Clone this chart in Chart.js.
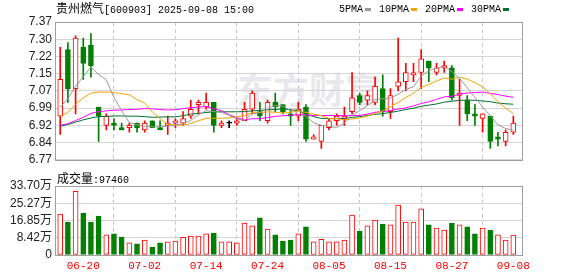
<!DOCTYPE html>
<html><head><meta charset="utf-8">
<script src="https://cdn.jsdelivr.net/npm/chart.js@4.4.1/dist/chart.umd.min.js"></script>
<style>
html,body{margin:0;padding:0;background:#fff;}
#wrap{position:relative;width:578px;height:276px;overflow:hidden;background:#fff;}
canvas{position:absolute;left:0;}
#c1{top:0;width:578px;height:170px;}
#c2{top:170px;width:578px;height:106px;}
.t{position:absolute;white-space:nowrap;color:#000;line-height:14px;}
.cjk{font-family:"Noto Sans CJK SC",sans-serif;font-size:12px;}
.lat{font-family:"Liberation Mono",monospace;font-size:10px;}
#legend{position:absolute;left:339px;top:2px;height:14px;display:flex;align-items:center;white-space:nowrap;}
#legend .mk{display:inline-block;width:6px;height:3px;margin-left:2px;margin-right:8px;}
</style></head><body>
<div id="wrap">
<canvas id="c1" width="578" height="170"></canvas>
<canvas id="c2" width="578" height="106"></canvas>
<div class="t" id="title" style="left:56px;top:1px;"></div>
<div id="legend"></div>
<div class="t" id="vollabel" style="left:57px;top:171px;"></div>
</div>
<script>
// ---------- data ----------
const stockName = '贵州燃气';
const stockCode = '600903';
const stamp = '2025-09-08 15:00';
const dates = ['06-17','06-18','06-19','06-20','06-23','06-24','06-25','06-26','06-27','06-30',
 '07-01','07-02','07-03','07-04','07-07','07-08','07-09','07-10','07-11',
 '07-14','07-15','07-16','07-17','07-18','07-21','07-22','07-23','07-24','07-25',
 '07-28','07-29','07-30','07-31','08-01','08-04','08-05','08-06','08-07','08-08',
 '08-11','08-12','08-13','08-14','08-15','08-18','08-19','08-20','08-21','08-22',
 '08-25','08-26','08-27','08-28','08-29','09-01','09-02','09-03','09-04','09-05','09-08'];
const xLabels = ['06-20','07-02','07-14','07-24','08-05','08-15','08-27','09-08'];
const opens  = [6.96,7.25,7.08,7.26,7.27,7.00,6.92,6.93,6.91,6.91, 6.93,6.90,6.94,6.91,6.92,6.93,6.93,6.96,7.01,7.00,
                7.02,6.92,6.93,6.93,6.94,6.99,6.98,6.94,7.02,7.01, 6.97,6.96,7.00,6.86,6.85,6.91,6.94,6.95,6.98,7.05,
                7.03,7.02,7.08,6.98,7.09,7.11,7.14,7.15,7.20,7.15, 7.17,7.17,7.05,7.03,6.97,6.95,6.96,6.87,6.85,6.89];
const closes = [7.12,7.08,7.30,7.19,7.18,6.96,6.96,6.92,6.90,6.92, 6.91,6.93,6.91,6.90,6.93,6.94,6.95,6.99,7.02,7.02,
                6.92,6.93,6.93,6.94,6.99,7.06,6.96,7.02,7.00,6.98, 6.96,6.99,6.86,6.87,6.92,6.94,6.96,6.96,7.04,7.02,
                7.05,7.09,6.98,7.05,7.11,7.15,7.15,7.21,7.17,7.17, 7.18,7.04,7.06,6.97,6.96,6.97,6.85,6.86,6.89,6.93];
const highs  = [7.26,7.28,7.31,7.30,7.32,7.00,6.97,6.95,6.93,6.93, 6.93,6.94,6.94,6.94,6.96,6.95,6.98,7.03,7.03,7.06,
                7.02,6.94,6.94,6.95,7.02,7.07,7.02,7.03,7.06,7.01, 6.99,7.02,7.01,6.88,6.92,6.95,6.97,7.00,7.15,7.06,
                7.07,7.13,7.14,7.08,7.30,7.19,7.19,7.25,7.20,7.19, 7.20,7.18,7.12,7.05,7.01,6.97,6.96,6.89,6.90,6.96];
const lows   = [6.88,7.02,6.97,7.12,7.13,6.85,6.90,6.90,6.90,6.89, 6.89,6.89,6.91,6.90,6.88,6.91,6.92,6.95,6.97,6.99,
                6.89,6.91,6.91,6.92,6.94,6.97,6.94,6.93,6.98,6.97, 6.92,6.94,6.85,6.86,6.82,6.90,6.92,6.92,6.97,7.01,
                7.01,7.01,6.96,6.95,7.07,7.07,7.11,7.08,7.11,7.14, 7.15,7.03,6.92,6.94,6.92,6.89,6.82,6.83,6.83,6.88];
const ma5  = [7.000,7.036,7.090,7.131,7.174,7.142,7.118,7.042,6.984,6.932, 6.922,6.916,6.914,6.914,6.916,6.922,6.926,6.942,6.966,6.984,
              6.980,6.976,6.964,6.948,6.942,6.970,6.976,6.994,7.006,7.004, 6.984,6.990,6.958,6.932,6.920,6.916,6.910,6.930,6.964,6.984,
              7.006,7.032,7.036,7.038,7.056,7.076,7.088,7.134,7.158,7.170, 7.176,7.154,7.124,7.084,7.042,7.000,6.962,6.922,6.906,6.900];
const ma10 = [6.960,6.976,7.012,7.040,7.060,7.065,7.065,7.063,7.058,7.053, 7.032,7.017,6.978,6.949,6.924,6.922,6.921,6.928,6.940,6.950,
              6.951,6.951,6.953,6.957,6.963,6.975,6.976,6.979,6.977,6.973, 6.977,6.983,6.976,6.969,6.962,6.950,6.950,6.944,6.948,6.952,
              6.961,6.971,6.983,7.001,7.020,7.041,7.060,7.085,7.098,7.113, 7.126,7.121,7.129,7.121,7.106,7.088,7.058,7.023,6.995,6.971];
const ma20 = [6.920,6.927,6.941,6.955,6.972,6.980,6.983,6.986,6.987,6.989, 6.990,6.993,6.992,6.989,6.987,6.988,6.993,6.997,7.000,7.002,
              6.992,6.984,6.966,6.953,6.944,6.949,6.949,6.954,6.959,6.962, 6.964,6.967,6.965,6.963,6.963,6.963,6.963,6.962,6.963,6.963,
              6.969,6.977,6.980,6.985,6.991,6.996,7.005,7.015,7.023,7.033, 7.044,7.046,7.056,7.061,7.063,7.065,7.059,7.054,7.047,7.042];
const ma30 = [6.916,6.924,6.934,6.944,6.952,6.958,6.959,6.961,6.961,6.960, 6.960,6.958,6.955,6.956,6.957,6.957,6.962,6.969,6.972,6.976,
              6.979,6.979,6.979,6.979,6.980,6.983,6.985,6.988,6.989,6.992, 6.987,6.984,6.969,6.958,6.950,6.949,6.949,6.950,6.955,6.958,
              6.963,6.968,6.971,6.976,6.982,6.989,6.995,7.003,7.008,7.013, 7.021,7.025,7.029,7.030,7.029,7.026,7.023,7.017,7.014,7.012];
const volumes = [200000,161000,311000,205000,161000,190000,98000,103000,88000,59000,
                 54000,73000,39000,59000,64000,68000,86000,93000,93000,103000,
                 107000,64000,64000,59000,156000,142000,181000,127000,98000,68000,
                 73000,103000,137000,64000,77000,64000,64000,73000,195000,117000,
                 142000,171000,151000,147000,244000,161000,161000,225000,147000,132000,
                 122000,156000,147000,137000,103000,132000,122000,98000,73000,97460];
const priceTicks = ['6.77','6.84','6.92','6.99','7.07','7.15','7.22','7.30','7.37'];
const volTicks = ['0','8.42万','16.85万','25.27万','33.70万'];
const maNames = ['5PMA','10PMA','20PMA','30PMA'];

// ---------- styles ----------
const RED = '#ff0000', GREEN = '#008000', FLAT = '#000000';
const maColors = ['#9a9a9a','#f5a300','#ff00ff','#006f30'];
const yMin = parseFloat(priceTicks[0]), yMax = parseFloat(priceTicks[priceTicks.length-1]);
const volMax = parseFloat(volTicks[volTicks.length-1]) * 10000;
const xMin = -0.68, xMax = 60.13;

const candleColor = closes.map((c,i)=> c>opens[i] ? RED : (c<opens[i] ? GREEN : FLAT));
const bodyFill = closes.map((c,i)=> c>opens[i] ? '#ffffff' : candleColor[i]);
const volColor = closes.map((c,i)=> (i===0 || c>=closes[i-1]) ? RED : GREEN);
const volFill = volColor.map(c=> c===RED ? '#ffffff' : c);
const labelIdx = xLabels.map(d=>dates.indexOf(d));

function xScale(showLabels){
  return {
    type:'linear', min:xMin, max:xMax, offset:false,
    afterBuildTicks: s=>{ s.ticks = labelIdx.map(v=>({value:v})); },
    afterFit: s=>{ s.height = showLabels ? 21 : 0; },
    grid:{color:'#c8c8c8', drawTicks:false, lineWidth:1},
    border:{display:false, dash:[4,3]},
    ticks:{display:showLabels, autoSkip:false, maxRotation:0, minRotation:0, padding:4, color:RED,
      font:{family:'"Liberation Mono", monospace', size:11}, callback:(v)=>dates[v]}
  };
}
function yTicks(labels, family){
  return {padding:3, autoSkip:false, color:'#222', font:{family:family, size:12}, callback:(v,i)=>labels[i]};
}
const framePlugin = {
  id:'frame',
  afterDraw(chart){
    const {ctx, chartArea:a} = chart;
    ctx.save(); ctx.strokeStyle = '#a0a0a0'; ctx.lineWidth = 1;
    ctx.strokeRect(Math.round(a.left)+0.5, Math.round(a.top)+0.5, Math.round(a.right-a.left), Math.round(a.bottom-a.top));
    ctx.restore();
  }
};
const watermarkPlugin = {
  id:'watermark',
  beforeDraw(chart){
    const ctx = chart.ctx;
    ctx.save();
    ctx.fillStyle = '#e8e8ed';
    ctx.font = 'bold 36px "Noto Sans CJK SC"';
    ctx.textBaseline = 'middle';
    ctx.fillText('东方财富', 237, 90);
    ctx.restore();
  }
};

const maSets = [ma5,ma10,ma20,ma30].map((arr,k)=>({
  type:'line', label:maNames[k], data:arr.map((v,i)=>({x:i,y:v})),
  borderColor:maColors[k], borderWidth:1, pointRadius:0, tension:0, order:0
}));

new Chart(document.getElementById('c1'), {
  type:'bar',
  data:{ datasets:[
    ...maSets,
    { type:'bar', label:'body', data:opens.map((o,i)=>({x:i, y:[o, closes[i]]})),
      backgroundColor:bodyFill, borderColor:candleColor, borderWidth:1, borderSkipped:false,
      barThickness:5, minBarLength:1, grouped:false, order:1 },
    { type:'bar', label:'wick', data:lows.map((l,i)=>({x:i, y:[l, highs[i]]})),
      backgroundColor:candleColor, borderWidth:0, barThickness:1, grouped:false, order:2 }
  ]},
  options:{
    responsive:false, maintainAspectRatio:false, animation:false,
    layout:{padding:{left:0,right:56,top:22,bottom:6}, autoPadding:false},
    plugins:{legend:{display:false}, tooltip:{enabled:false}},
    scales:{
      x: xScale(false),
      y: { min:yMin, max:yMax,
        afterBuildTicks: s=>{ s.ticks = priceTicks.map((t,k)=>({value: yMin + k*(yMax-yMin)/(priceTicks.length-1)})); },
        afterFit: s=>{ s.width = 55; },
        grid:{color:'#d4d4d4', drawTicks:false},
        border:{display:false},
        ticks: yTicks(priceTicks, '"Liberation Sans", sans-serif')
      }
    }
  },
  plugins:[watermarkPlugin, framePlugin]
});

new Chart(document.getElementById('c2'), {
  type:'bar',
  data:{ datasets:[
    { label:'volume', data:volumes.map((v,i)=>({x:i,y:v})),
      backgroundColor:volFill, borderColor:volColor, borderWidth:1, borderSkipped:false,
      barThickness:5, grouped:false }
  ]},
  options:{
    responsive:false, maintainAspectRatio:false, animation:false,
    layout:{padding:{left:0,right:56,top:16,bottom:0}, autoPadding:false},
    plugins:{legend:{display:false}, tooltip:{enabled:false}},
    scales:{
      x: xScale(true),
      y: { min:0, max:volMax,
        afterBuildTicks: s=>{ s.ticks = volTicks.map((t,k)=>({value: k*volMax/(volTicks.length-1)})); },
        afterFit: s=>{ s.width = 55; },
        grid:{color:'#d4d4d4', drawTicks:false},
        border:{display:false},
        ticks: yTicks(volTicks, '"Liberation Sans", "Noto Sans CJK SC", sans-serif')
      }
    }
  },
  plugins:[framePlugin]
});

// ---------- text ----------
document.getElementById('title').innerHTML =
  '<span class="cjk">'+stockName+'</span><span class="lat">['+stockCode+'] '+stamp+'</span>';
const lg = document.getElementById('legend');
maNames.forEach((n,k)=>{
  const s = document.createElement('span'); s.className='lat'; s.textContent=n; lg.appendChild(s);
  const m = document.createElement('span'); m.className='mk'; m.style.background=maColors[k];
  if (k===maNames.length-1) m.style.marginRight='0';
  lg.appendChild(m);
});
document.getElementById('vollabel').innerHTML =
  '<span class="cjk">成交量</span><span class="lat">:'+volumes[volumes.length-1]+'</span>';
</script>
</body></html>
